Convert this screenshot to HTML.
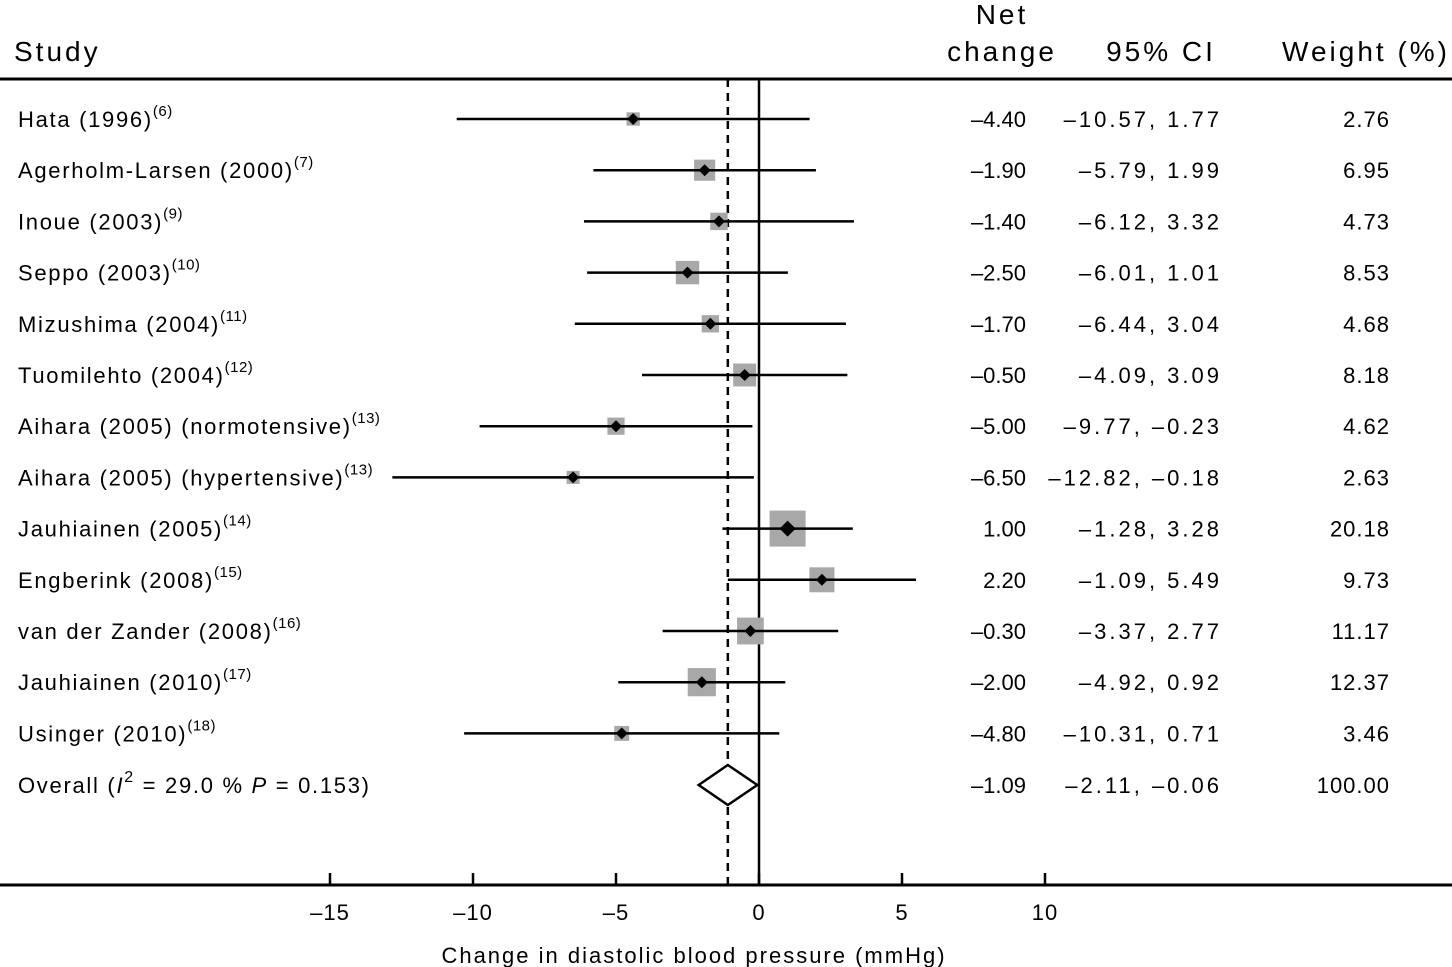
<!DOCTYPE html>
<html><head><meta charset="utf-8"><style>
html,body{margin:0;padding:0;background:#fff;}
svg{display:block;font-family:"Liberation Sans",sans-serif;}
.hd{letter-spacing:3px;}
</style></head><body>
<svg id="chart" width="1452" height="967" viewBox="0 0 1452 967">
<g>
<text class="hd" x="14" y="61" font-size="28">Study</text>
<text class="hd" x="1002" y="24" font-size="28" text-anchor="middle">Net</text>
<text class="hd" x="1002" y="61" font-size="28" text-anchor="middle">change</text>
<text class="hd" x="1161" y="61" font-size="28" text-anchor="middle">95% CI</text>
<text class="hd" x="1450" y="61" font-size="28" text-anchor="end">Weight (%)</text>
<line x1="0" x2="1452" y1="79" y2="79" stroke="#000" stroke-width="3"/>
</g>
<g id="plot"></g>
</svg>
<script>
const studies=["Hata (1996)","Agerholm-Larsen (2000)","Inoue (2003)","Seppo (2003)","Mizushima (2004)","Tuomilehto (2004)","Aihara (2005) (normotensive)","Aihara (2005) (hypertensive)","Jauhiainen (2005)","Engberink (2008)","van der Zander (2008)","Jauhiainen (2010)","Usinger (2010)"];
const refs=["6","7","9","10","11","12","13","13","14","15","16","17","18"];
const effects=[-4.40,-1.90,-1.40,-2.50,-1.70,-0.50,-5.00,-6.50,1.00,2.20,-0.30,-2.00,-4.80];
const lows=[-10.57,-5.79,-6.12,-6.01,-6.44,-4.09,-9.77,-12.82,-1.28,-1.09,-3.37,-4.92,-10.31];
const highs=[1.77,1.99,3.32,1.01,3.04,3.09,-0.23,-0.18,3.28,5.49,2.77,0.92,0.71];
const weights=[2.76,6.95,4.73,8.53,4.68,8.18,4.62,2.63,20.18,9.73,11.17,12.37,3.46];
const overall=[-1.09,-2.11,-0.06];
const xTicks=[-15,-10,-5,0,5,10];
const NS="http://www.w3.org/2000/svg";
const g=document.getElementById('plot');
function X(v){return 759+v*28.6;}
function Y(i){return 119+i*51.2;}
function fmt(v){return (v<0?'\u2013':'')+Math.abs(v).toFixed(2);}
function mk(tag,attrs){const e=document.createElementNS(NS,tag);for(const k in attrs)e.setAttribute(k,attrs[k]);g.appendChild(e);return e;}
const yTop=79,yAxis=885;
let l=mk('line',{x1:X(0),x2:X(0),y1:yTop,y2:yAxis,stroke:'#000','stroke-width':2.5});


l=mk('line',{x1:X(overall[0]),x2:X(overall[0]),y1:yTop,y2:yAxis,stroke:'#000','stroke-width':2.5,'stroke-dasharray':'8,6'});


studies.forEach((s,i)=>{
  const y=Y(i);
  const side=36*Math.sqrt(weights[i]/20.18);
  let r=mk('rect',{x:X(effects[i])-side/2,y:y-side/2,width:side,height:side,fill:'#a8a8a8'});
  
  
  let c=mk('line',{x1:X(lows[i]),x2:X(highs[i]),y1:y,y2:y,stroke:'#000','stroke-width':2.5});
  
  
  const d=weights[i]>15?8:6;
  const ex=X(effects[i]);
  let p=mk('polygon',{points:`${ex-d},${y} ${ex},${y-d} ${ex+d},${y} ${ex},${y+d}`,fill:'#000'});
  
  
  let t=mk('text',{x:18,y:y+8,'font-size':22,'letter-spacing':1.7});
  t.innerHTML=s+'<tspan dy="-11" font-size="15" letter-spacing="0.5">('+refs[i]+')</tspan>';
  
  
  t=mk('text',{x:1026,y:y+8,'font-size':22,'text-anchor':'end'});t.textContent=fmt(effects[i]);
  
  
  t=mk('text',{x:1222,y:y+8,'font-size':22,'text-anchor':'end','letter-spacing':3});t.textContent=fmt(lows[i])+', '+fmt(highs[i]);
  
  
  t=mk('text',{x:1390,y:y+8,'font-size':22,'text-anchor':'end','letter-spacing':1});t.textContent=weights[i].toFixed(2);
  
  
});
const yo=785;
let dm=mk('polygon',{points:`${X(overall[1])},${yo} ${X(overall[0])},${yo-20} ${X(overall[2])},${yo} ${X(overall[0])},${yo+20}`,fill:'#fff',stroke:'#000','stroke-width':2.5});


let ot=mk('text',{x:18,y:yo+8,'font-size':22,'letter-spacing':1.7});
ot.innerHTML='Overall (<tspan font-style="italic">I</tspan><tspan dy="-11" font-size="16">2</tspan><tspan dy="11"> = 29.0 % </tspan><tspan font-style="italic">P</tspan> = 0.153)';


[[1026,fmt(overall[0]),0],[1222,fmt(overall[1])+', '+fmt(overall[2]),3],[1390,'100.00',1]].forEach(([x,s,ls])=>{
  const t=mk('text',{x:x,y:yo+8,'font-size':22,'text-anchor':'end','letter-spacing':ls});t.textContent=s;
  
  
});
let ax=mk('line',{x1:0,x2:1452,y1:yAxis,y2:yAxis,stroke:'#000','stroke-width':3});


xTicks.forEach(v=>{
  let tk=mk('line',{x1:X(v),x2:X(v),y1:yAxis-12,y2:yAxis,stroke:'#000','stroke-width':2.5});
  
  
  let tl=mk('text',{x:X(v),y:920,'font-size':22,'text-anchor':'middle','letter-spacing':1});
  tl.textContent=(v<0?'\u2013':'')+Math.abs(v);
  
  
});
let xt=mk('text',{x:694,y:963,'font-size':22,'text-anchor':'middle','letter-spacing':2});
xt.textContent='Change in diastolic blood pressure (mmHg)';


</script>
</body></html>
